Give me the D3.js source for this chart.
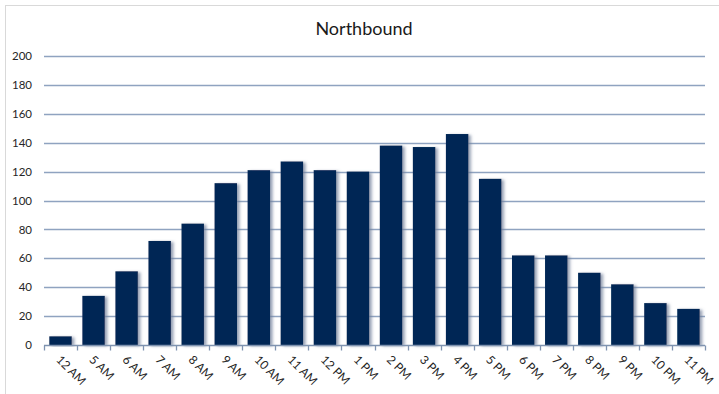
<!DOCTYPE html>
<html>
<head>
<meta charset="utf-8">
<script src="https://cdn.jsdelivr.net/npm/d3@7"></script>
<style>
html,body{margin:0;padding:0;background:#fff;}
svg{display:block;}
</style>
</head>
<body>
<svg id="chart" width="719" height="394"></svg>
<script>
const categories = ["12 AM","5 AM","6 AM","7 AM","8 AM","9 AM","10 AM","11 AM","12 PM","1 PM","2 PM","3 PM","4 PM","5 PM","6 PM","7 PM","8 PM","9 PM","10 PM","11 PM"];
const values = [6,34,51,72,84,112,121,127,121,120,138,137,146,115,62,62,50,42,29,25];
const yTicks = [0,20,40,60,80,100,120,140,160,180,200];
const title = "Northbound";

const svg = d3.select("#chart");
const W = 719, H = 394;
const m = {left:44, right:14, top:56, bottom:49};
const font = "Lato, 'Open Sans', sans-serif";

// chart border
svg.append("rect").attr("x",5.5).attr("y",5.5).attr("width",W+10).attr("height",H+10)
  .attr("fill","#fff").attr("stroke","#d9d9d9").attr("stroke-width",1);

const defs = svg.append("defs");
const f = defs.append("filter").attr("id","shadow").attr("x","-20%").attr("y","-20%").attr("width","160%").attr("height","140%");
f.append("feDropShadow").attr("dx",2.5).attr("dy",1).attr("stdDeviation",1.6)
  .attr("flood-color","#6f7f99").attr("flood-opacity",0.75);

const x = d3.scaleBand().domain(categories).range([m.left, W-m.right]).paddingInner(0.32).paddingOuter(0.16);
const y = d3.scaleLinear().domain([0,200]).range([H-m.bottom, m.top]);

// gridlines
svg.append("g").selectAll("line").data(yTicks.filter(d=>d>0)).join("line")
  .attr("x1",m.left).attr("x2",W-m.right)
  .attr("y1",d=>Math.round(y(d))+0.5).attr("y2",d=>Math.round(y(d))+0.5)
  .attr("stroke","#8fa3c0").attr("stroke-width",1.3);

// y axis labels
const yAxis = d3.axisLeft(y).tickValues(yTicks).tickSize(0).tickPadding(12);
const gy = svg.append("g").attr("transform",`translate(${m.left},0)`).call(yAxis);
gy.select(".domain").remove();
gy.selectAll("text").attr("font-family",font).attr("font-size",11.5).attr("fill","#262626");

// bars
svg.append("g").selectAll("rect").data(values).join("rect")
  .attr("x",(d,i)=>x(categories[i]))
  .attr("width",x.bandwidth())
  .attr("y",d=>y(d))
  .attr("height",d=>y(0)-y(d))
  .attr("fill","#002855")
  .attr("filter","url(#shadow)");

// x axis
const xb = d3.scaleLinear().domain([0,categories.length]).range([m.left, W-m.right]);
const gx = svg.append("g").attr("transform",`translate(0,${Math.round(y(0))+0.5})`);
gx.append("line").attr("x1",m.left).attr("x2",W-m.right).attr("stroke","#7f93b0").attr("stroke-width",1.3);
gx.selectAll("line.tick").data(d3.range(categories.length+1)).join("line").attr("class","tick")
  .attr("x1",d=>Math.round(xb(d))+0.5).attr("x2",d=>Math.round(xb(d))+0.5)
  .attr("y1",0).attr("y2",5).attr("stroke","#7f93b0").attr("stroke-width",1.3);
gx.selectAll("text").data(categories).join("text")
  .attr("transform",d=>`translate(${x(d)+x.bandwidth()/2-2},${12}) rotate(45)`)
  .attr("font-family",font).attr("font-size",12).attr("fill","#262626")
  .attr("dy","0.35em")
  .text(d=>d);

// title
svg.append("text").attr("x",364).attr("y",35).attr("text-anchor","middle")
  .attr("font-family",font).attr("font-size",18).attr("fill","#1a1a1a").text(title);
</script>
</body>
</html>
